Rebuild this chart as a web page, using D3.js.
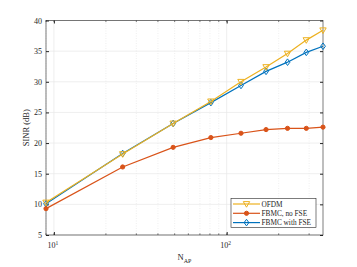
<!DOCTYPE html>
<html>
<head>
<meta charset="utf-8">
<script src="https://cdn.jsdelivr.net/npm/d3@7"></script>
<style>
  body { margin: 0; background: #fff; }
  text { font-family: "Liberation Serif", "DejaVu Serif", serif; fill: #262626; }
</style>
</head>
<body>
<div id="chart"></div>
<script>
const nAP = [9, 25, 49, 81, 121, 169, 225, 289, 361];
const ofdm = [10.3, 18.2, 23.2, 26.8, 30.0, 32.4, 34.6, 36.8, 38.4];
const fbmcNoFse = [9.3, 16.1, 19.3, 20.9, 21.6, 22.2, 22.4, 22.4, 22.6];
const fbmcFse = [10.1, 18.3, 23.2, 26.6, 29.4, 31.7, 33.2, 34.8, 35.8];
const yTicks = [5, 10, 15, 20, 25, 30, 35, 40];
const seriesNames = ["OFDM", "FBMC, no FSE", "FBMC with FSE"];

const width = 357, height = 267;
const margin = { top: 20.5, right: 34, bottom: 32, left: 46 };
const w = width - margin.left - margin.right,
      h = height - margin.top - margin.bottom;

const svg = d3.select("#chart").append("svg")
    .attr("width", width).attr("height", height);

const g = svg.append("g")
    .attr("transform", `translate(${margin.left}, ${margin.top})`);

const x = d3.scaleLog().domain([9, 361]).range([0, w]);
const y = d3.scaleLinear().domain([5, 40]).range([h, 0]);

// minor x values for log grid
const minorX = [];
for (let d = 1; d <= 100; d *= 10) {
    for (let k = 1; k < 10; k++) {
        const v = k * d;
        if (v >= 9 && v <= 361) minorX.push(v);
    }
}

// grid
g.append("g").selectAll("line").data(minorX.filter(v => v !== 10 && v !== 100))
    .join("line")
    .attr("x1", d => x(d)).attr("x2", d => x(d))
    .attr("y1", 0).attr("y2", h)
    .attr("stroke", "#e4e4e4").attr("stroke-width", 0.6)
    .attr("stroke-dasharray", "1,1.5");

g.append("g").selectAll("line").data([10, 100])
    .join("line")
    .attr("x1", d => x(d)).attr("x2", d => x(d))
    .attr("y1", 0).attr("y2", h)
    .attr("stroke", "#e6e6e6").attr("stroke-width", 0.7);

g.append("g").selectAll("line").data(yTicks)
    .join("line")
    .attr("x1", 0).attr("x2", w)
    .attr("y1", d => y(d)).attr("y2", d => y(d))
    .attr("stroke", "#e6e6e6").attr("stroke-width", 0.7);

// axes
const axisColor = "#262626";
const yAxis = g.append("g")
    .call(d3.axisLeft(y).tickValues(yTicks).tickSize(-3).tickPadding(4));
yAxis.select(".domain").remove();
yAxis.selectAll("line").attr("stroke", axisColor);
yAxis.selectAll("text").attr("font-size", 8).attr("font-family", "Liberation Serif");

const yAxisR = g.append("g").attr("transform", `translate(${w},0)`)
    .call(d3.axisRight(y).tickValues(yTicks).tickSize(-3).tickFormat(""));
yAxisR.select(".domain").remove();
yAxisR.selectAll("line").attr("stroke", axisColor);

const xAxis = g.append("g").attr("transform", `translate(0,${h})`)
    .call(d3.axisBottom(x).tickValues([10, 100]).tickSize(-3).tickFormat(""));
xAxis.select(".domain").remove();
xAxis.selectAll("line").attr("stroke", axisColor);

const xAxisTop = g.append("g")
    .call(d3.axisTop(x).tickValues([10, 100]).tickSize(-3).tickFormat(""));
xAxisTop.select(".domain").remove();
xAxisTop.selectAll("line").attr("stroke", axisColor);

// minor ticks
g.append("g").selectAll("line").data(minorX)
    .join("line")
    .attr("x1", d => x(d)).attr("x2", d => x(d))
    .attr("y1", h).attr("y2", h - 1.6)
    .attr("stroke", axisColor).attr("stroke-width", 0.6);
g.append("g").selectAll("line").data(minorX)
    .join("line")
    .attr("x1", d => x(d)).attr("x2", d => x(d))
    .attr("y1", 0).attr("y2", 1.6)
    .attr("stroke", axisColor).attr("stroke-width", 0.6);

// x tick labels 10^1, 10^2
[10, 100].forEach((v, i) => {
    const t = g.append("text")
        .attr("x", x(v) - 1).attr("y", h + 13)
        .attr("text-anchor", "middle")
        .attr("font-size", 8);
    t.append("tspan").text("10");
    t.append("tspan").attr("dy", -3.5).attr("font-size", 5.5).text(i + 1);
});

// box
g.append("rect")
    .attr("width", w).attr("height", h)
    .attr("fill", "none").attr("stroke", axisColor).attr("stroke-width", 0.6);

// labels
g.append("text")
    .attr("transform", "rotate(-90)")
    .attr("x", -h / 2).attr("y", -17)
    .attr("text-anchor", "middle")
    .attr("font-size", 8.5)
    .text("SINR (dB)");

const xl = g.append("text")
    .attr("x", w / 2).attr("y", h + 25)
    .attr("text-anchor", "middle")
    .attr("font-size", 8.5);
xl.append("tspan").text("N");
xl.append("tspan").attr("dy", 2.5).attr("font-size", 6).text("AP");

// series
const colors = { ofdm: "#EDB120", noFse: "#D95319", fse: "#0072BD" };
const line = d3.line().x(d => x(d[0])).y(d => y(d[1]));

function drawMarker(sel, type, color) {
    if (type === "circle") {
        sel.append("circle").attr("r", 2.1).attr("fill", color).attr("stroke", color);
    } else if (type === "tri") {
        sel.append("path").attr("d", "M-3.2,-2.4L3.2,-2.4L0,3.2Z")
            .attr("fill", "none").attr("stroke", color).attr("stroke-width", 1);
    } else {
        sel.append("path").attr("d", "M0,-3.3L2.4,0L0,3.3L-2.4,0Z")
            .attr("fill", "none").attr("stroke", color).attr("stroke-width", 1);
    }
}

const series = [
    { vals: fbmcFse, color: colors.fse, m: "diamond" },
    { vals: fbmcNoFse, color: colors.noFse, m: "circle" },
    { vals: ofdm, color: colors.ofdm, m: "tri" }
];

series.forEach(s => {
    const data = nAP.map((n, i) => [n, s.vals[i]]);
    g.append("path").datum(data)
        .attr("fill", "none").attr("stroke", s.color).attr("stroke-width", 1.2)
        .attr("d", line);
    data.forEach(d => {
        const mg = g.append("g").attr("transform", `translate(${x(d[0])},${y(d[1])})`);
        drawMarker(mg, s.m, s.color);
    });
});

// legend
const leg = svg.append("g").attr("transform", "translate(231,198.5)");
leg.append("rect").attr("width", 85).attr("height", 29)
    .attr("fill", "#fff").attr("stroke", axisColor).attr("stroke-width", 0.6);
const legItems = [
    { name: seriesNames[0], color: colors.ofdm, m: "tri" },
    { name: seriesNames[1], color: colors.noFse, m: "circle" },
    { name: seriesNames[2], color: colors.fse, m: "diamond" }
];
legItems.forEach((it, i) => {
    const yy = 5.5 + i * 9.3;
    leg.append("line").attr("x1", 2).attr("x2", 29).attr("y1", yy).attr("y2", yy)
        .attr("stroke", it.color).attr("stroke-width", 1.2);
    const mg = leg.append("g").attr("transform", `translate(15.5,${yy})`);
    drawMarker(mg, it.m, it.color);
    leg.append("text").attr("x", 30.5).attr("y", yy + 2.6)
        .attr("font-size", 7.3).text(it.name);
});
</script>
</body>
</html>
